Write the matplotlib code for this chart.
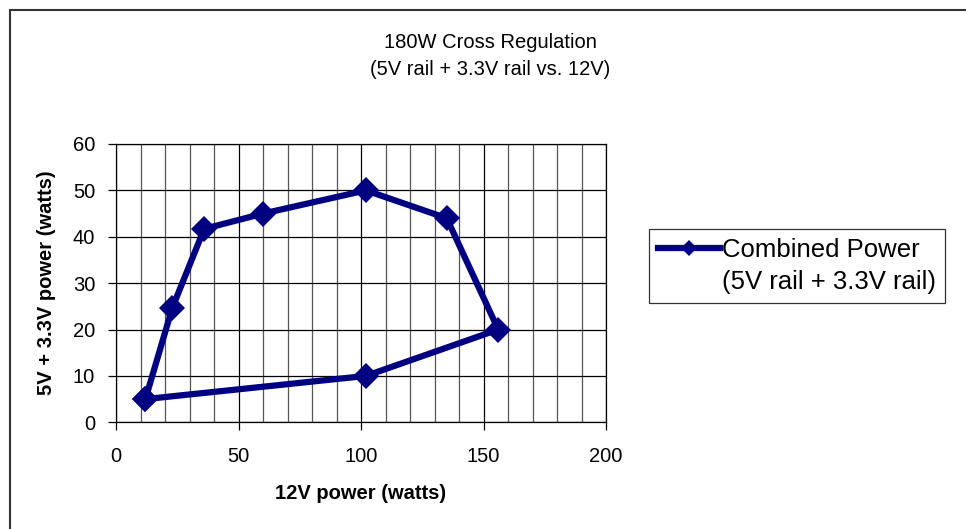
import matplotlib
matplotlib.use("Agg")
import matplotlib.pyplot as plt
from matplotlib.patches import Rectangle
from matplotlib.lines import Line2D

plt.rcParams['font.family'] = ['Liberation Sans', 'DejaVu Sans']

# 12V power vs combined 5V + 3.3V power, closed loop
power_12v = [12, 23, 36, 60, 102, 135, 156, 102, 12]
power_5v_33v = [5, 24.7, 41.7, 45, 50, 44, 20, 10, 5]
legend_lines = ['Combined Power', '(5V rail + 3.3V rail)']

fig = plt.figure(figsize=(9.66, 5.29), dpi=100)
fig.patches.append(Rectangle((10 / 966, -0.1), 1.2, 1 - 10 / 529 + 0.1,
                             transform=fig.transFigure, fill=False,
                             edgecolor='#333333', linewidth=1.5))

ax = fig.add_axes([116 / 966, 1 - 422.3 / 529, 490 / 966, 278.3 / 529])
line, = ax.plot(power_12v, power_5v_33v, color='#000080', linewidth=4.5,
                marker='D', markersize=13, markeredgewidth=0, zorder=3)

ax.set_xlim(0, 200)
ax.set_ylim(0, 60)
ax.set_xticks(range(0, 201, 50))
ax.set_xticks(range(0, 201, 10), minor=True)
ax.set_yticks(range(0, 61, 10))
ax.grid(which='major', color='black', linewidth=0.9)
ax.grid(which='minor', axis='x', color='#555555', linewidth=0.9)
ax.tick_params(which='major', direction='out', length=6, width=0.9,
               labelsize=14.5, pad=9)
ax.tick_params(axis='x', which='major', pad=12)
ax.tick_params(which='minor', length=0)
for s in ax.spines.values():
    s.set_color('black')
    s.set_linewidth(0.9)

ax.set_xlabel('12V power (watts)', fontsize=14.5, fontweight='bold', labelpad=13)
ax.set_ylabel('5V + 3.3V power (watts)', fontsize=14.5, fontweight='bold', labelpad=12)

fig.text(490 / 966, 1 - 42 / 529, '180W Cross Regulation', ha='center', va='center', fontsize=14.5)
fig.text(490 / 966, 1 - 70 / 529, '(5V rail + 3.3V rail vs. 12V)', ha='center', va='center', fontsize=14.5)

# handle sits beside the first text line only, as in the original
blank = Line2D([], [], linestyle='none', marker=None)
leg = ax.legend([line, blank], legend_lines,
                loc='center left', bbox_to_anchor=(649 / 966, 1 - 266 / 529),
                bbox_transform=fig.transFigure, fontsize=18.5, frameon=True,
                fancybox=False, edgecolor='black', handlelength=2.4,
                handletextpad=0.1, borderpad=0.35, labelspacing=0.3,
                markerscale=0.6, borderaxespad=0)
leg.get_frame().set_linewidth(0.9)

fig.savefig('out.png', dpi=100)
